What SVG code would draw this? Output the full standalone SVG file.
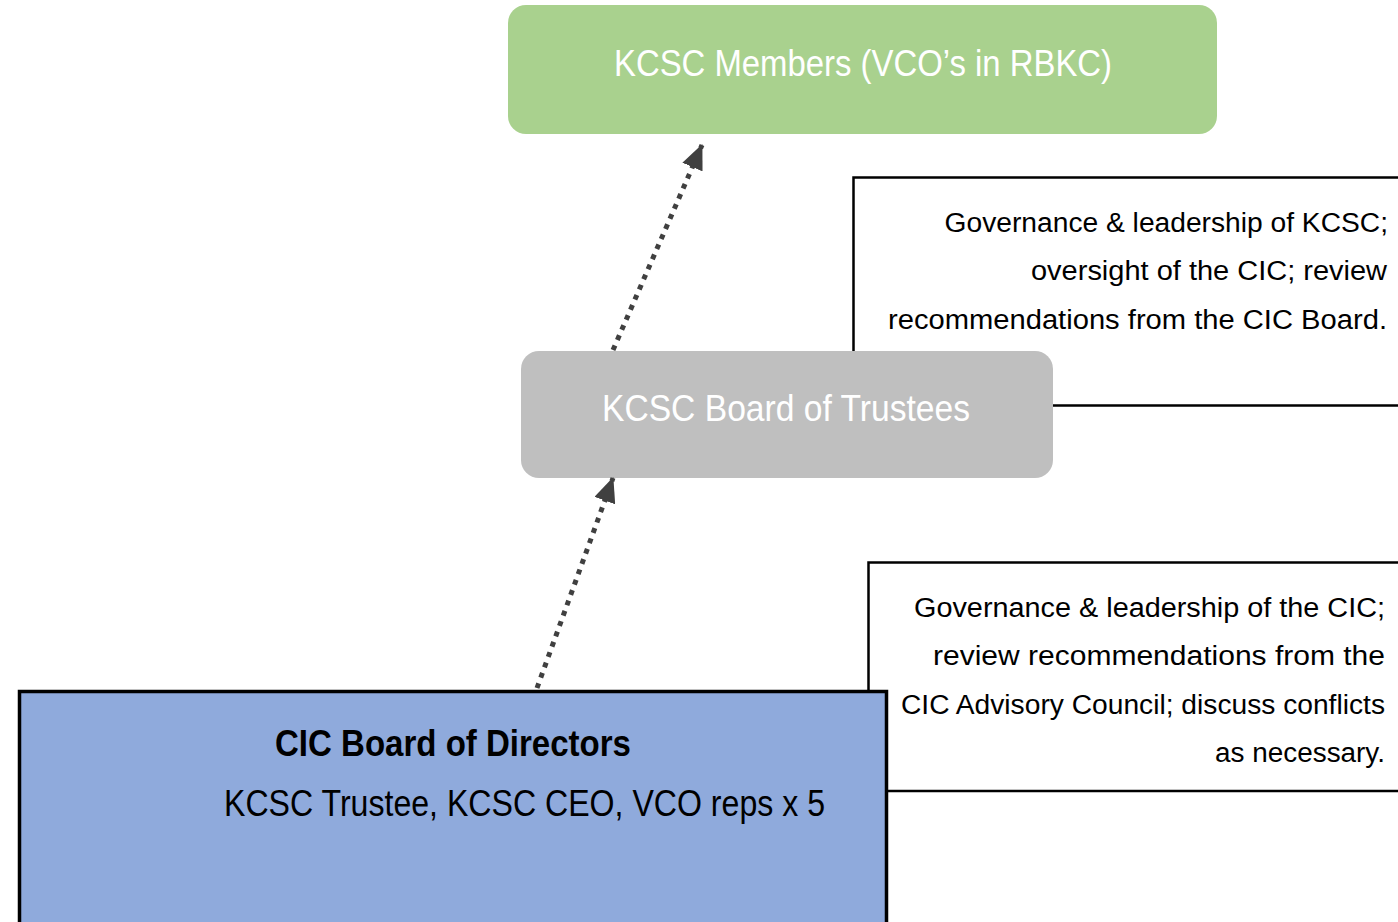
<svg xmlns="http://www.w3.org/2000/svg" width="1398" height="922" viewBox="0 0 1398 922">
<style>
text{font-family:"Liberation Sans",Arial,sans-serif}
.w{fill:#ffffff;font-size:37px}
.d{fill:#000000;font-size:28.2px;text-anchor:end}
.t{fill:#000000;font-size:37px}
.b{font-weight:bold}
.note{fill:#ffffff;stroke:#000000;stroke-width:2.5}
.conn{fill:none;stroke:#404040;stroke-width:5;stroke-dasharray:5 6}
</style>
<defs>
<marker id="ah" viewBox="0 0 25 22" refX="24" refY="11" markerWidth="25" markerHeight="22" orient="auto" markerUnits="userSpaceOnUse">
<path d="M0,0 L25,11 L0,22 z" fill="#404040"/>
</marker>
</defs>
<rect width="1398" height="922" fill="#ffffff"/>
<g id="note-trustees">
<rect class="note" x="853.5" y="177.5" width="547" height="228"/>
<text class="d" x="1388" y="232">Governance &amp; leadership of KCSC;</text>
<text class="d" x="1387" y="280" textLength="356" lengthAdjust="spacingAndGlyphs">oversight of the CIC; review</text>
<text class="d" x="1387" y="329" textLength="499" lengthAdjust="spacingAndGlyphs">recommendations from the CIC Board.</text>
</g>
<g id="note-cic">
<rect class="note" x="868.5" y="562.5" width="532" height="228.5"/>
<text class="d" x="1385" y="617" textLength="471" lengthAdjust="spacingAndGlyphs">Governance &amp; leadership of the CIC;</text>
<text class="d" x="1385" y="665" textLength="452" lengthAdjust="spacingAndGlyphs">review recommendations from the</text>
<text class="d" x="1385" y="714">CIC Advisory Council; discuss conflicts</text>
<text class="d" x="1385" y="762" textLength="170" lengthAdjust="spacingAndGlyphs">as necessary.</text>
</g>
<g id="members">
<rect x="508" y="5" width="709" height="129" rx="18" fill="#a9d18e"/>
<text class="w" x="614" y="76" textLength="498" lengthAdjust="spacingAndGlyphs">KCSC Members (VCO’s in RBKC)</text>
</g>
<g id="trustees">
<rect x="521" y="351" width="532" height="127" rx="18" fill="#bfbfbf"/>
<text class="w" x="602" y="421" textLength="368" lengthAdjust="spacingAndGlyphs">KCSC Board of Trustees</text>
</g>
<g id="cic-board">
<rect x="19.5" y="691.5" width="867" height="235" fill="#8faadc" stroke="#000000" stroke-width="3.5"/>
<text class="t b" x="275" y="756" textLength="356" lengthAdjust="spacingAndGlyphs">CIC Board of Directors</text>
<text class="t" x="224" y="816" textLength="601" lengthAdjust="spacingAndGlyphs">KCSC Trustee, KCSC CEO, VCO reps x 5</text>
</g>
<g id="connectors">
<path class="conn" d="M613,350 L702,145" marker-end="url(#ah)"/>
<path class="conn" d="M537,688 L613,478" marker-end="url(#ah)"/>
</g>
</svg>
